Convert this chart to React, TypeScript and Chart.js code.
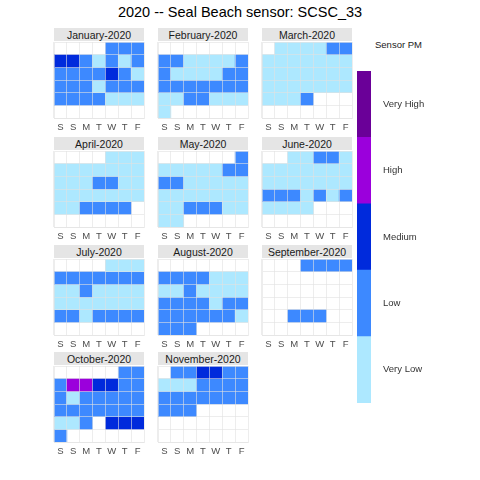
import React, { useEffect, useRef } from 'react';
import { Chart, registerables } from 'chart.js';

Chart.register(...registerables);
Chart.defaults.font.family = '"Liberation Sans", Arial, Helvetica, sans-serif';

const TITLE = '2020 -- Seal Beach sensor: SCSC_33';
const YEAR = 2020;
const MONTH_NAMES = ['January', 'February', 'March', 'April', 'May', 'June', 'July', 'August', 'September', 'October', 'November'];
const DAY_LABELS = ['S', 'S', 'M', 'T', 'W', 'T', 'F'];
const LEGEND_TITLE = 'Sensor PM';
const LEVELS = ['Very Low', 'Low', 'Medium', 'High', 'Very High'];
const LEVEL_COLORS = ['#ADE8FF', '#3D89FF', '#002ADC', '#9B00DC', '#6A0098'];

// daily category per month: 0 = no data, 1..5 = LEVELS index + 1
const jan = [2, 2, 2, 3, 3, 2, 1, 2, 1, 2, 2, 2, 2, 2, 3, 2, 1, 2, 2, 2, 1, 2, 2, 2, 2, 2, 2, 2, 1, 1, 1];
const feb = [2, 2, 1, 1, 1, 1, 2, 2, 1, 1, 1, 1, 2, 2, 2, 2, 2, 2, 2, 2, 2, 1, 1, 2, 2, 1, 1, 1, 1];
const mar = [1, 1, 1, 1, 2, 2, 1, 1, 1, 1, 1, 1, 1, 1, 1, 1, 1, 1, 1, 1, 1, 1, 1, 1, 1, 1, 1, 1, 1, 1, 2];
const apr = [1, 1, 1, 1, 1, 1, 1, 1, 1, 1, 1, 1, 1, 2, 2, 1, 1, 1, 1, 1, 1, 1, 1, 1, 1, 1, 2, 2, 2, 2];
const may = [2, 1, 1, 1, 1, 1, 2, 2, 2, 2, 1, 1, 1, 1, 1, 1, 1, 1, 1, 1, 1, 1, 1, 1, 2, 2, 2, 1, 1, 1, 1];
const jun = [1, 1, 2, 2, 1, 1, 1, 1, 1, 1, 1, 1, 1, 1, 1, 1, 1, 1, 1, 2, 2, 2, 1, 2, 1, 2, 1, 1, 1, 1];
const jul = [1, 1, 1, 2, 2, 2, 2, 2, 2, 2, 1, 1, 2, 1, 1, 1, 1, 1, 1, 1, 1, 1, 1, 1, 2, 2, 1, 2, 2, 2, 2];
const aug = [2, 2, 2, 2, 1, 1, 1, 1, 1, 2, 1, 1, 1, 1, 2, 2, 2, 2, 1, 2, 2, 2, 2, 2, 2, 2, 2, 1, 2, 2, 2];
const sep = [2, 2, 2, 2, 0, 0, 0, 0, 0, 0, 0, 0, 0, 0, 0, 0, 0, 0, 0, 0, 0, 0, 0, 0, 0, 0, 0, 2, 2, 2];
const oct = [2, 2, 2, 4, 4, 3, 3, 2, 2, 2, 1, 2, 2, 2, 2, 2, 2, 2, 2, 2, 2, 2, 2, 1, 1, 2, 0, 3, 3, 3, 2];
const nov = [2, 2, 3, 3, 2, 2, 1, 1, 1, 2, 2, 2, 2, 2, 2, 2, 2, 2, 2, 2, 2, 2, 2];
const MONTH_VALUES = [jan, feb, mar, apr, may, jun, jul, aug, sep, oct, nov];

const GRID_W = 90;
const GRID_H = 76;
const AXIS_H = 17;
const COL_LEFT = [54, 158, 262];
const ROW_TOP = [42, 151, 259, 366];
const GRID_COLOR = 'rgba(225,225,225,0.6)';

function MonthPanel({ monthIndex, values, left, top }: { monthIndex: number; values: number[]; left: number; top: number }) {
  const ref = useRef<HTMLCanvasElement>(null);
  useEffect(() => {
    const firstDay = new Date(YEAR, monthIndex, 1).getDay();
    const col0 = (firstDay + 1) % 7;
    const offset = col0 === 0 ? 7 : col0;
    const rows: any[][] = Array.from({ length: 6 }, () => Array(7).fill(null));
    const colors: string[][] = Array.from({ length: 6 }, () => Array(7).fill('rgba(0,0,0,0)'));
    values.forEach((v, i) => {
      if (!v) return;
      const pos = offset + i;
      const r = Math.floor(pos / 7);
      const c = pos % 7;
      rows[r][c] = [r, r + 1];
      colors[r][c] = LEVEL_COLORS[v - 1];
    });
    const datasets = rows.map((d, r) => ({
      data: d,
      backgroundColor: colors[r],
      borderWidth: 0,
      grouped: false,
      barPercentage: 1,
      categoryPercentage: 1,
    }));
    const chart = new Chart(ref.current as HTMLCanvasElement, {
      type: 'bar',
      data: { labels: DAY_LABELS, datasets: datasets as any },
      options: {
        animation: false,
        responsive: false,
        maintainAspectRatio: false,
        events: [],
        layout: { padding: { left: 1, right: 1, top: 1, bottom: 0 } },
        plugins: { legend: { display: false }, tooltip: { enabled: false }, title: { display: false } },
        scales: {
          x: {
            type: 'category',
            position: 'bottom',
            offset: true,
            grid: { display: true, offset: true, color: GRID_COLOR, lineWidth: 1, drawTicks: false, z: 1 },
            border: { display: true, color: GRID_COLOR, z: 1 },
            ticks: { color: '#4D4D4D', font: { size: 9.5 }, padding: 4, autoSkip: false, maxRotation: 0 },
            afterFit: (s: any) => { s.height = AXIS_H; s.paddingLeft = 0; s.paddingRight = 0; },
          },
          y: {
            type: 'linear',
            min: 0,
            max: 6,
            reverse: true,
            grid: { color: GRID_COLOR, lineWidth: 1, drawTicks: false, z: 1 },
            border: { display: true, color: GRID_COLOR, z: 1 },
            ticks: { display: false, stepSize: 1 },
            afterFit: (s: any) => { s.width = 0; s.paddingTop = 0; s.paddingBottom = 0; },
          },
        },
      } as any,
    });
    return () => chart.destroy();
  }, [monthIndex, values]);

  return (
    <>
      <div
        style={{
          position: 'absolute',
          left: left,
          top: top - 14,
          width: GRID_W,
          height: 13,
          background: '#E5E5E5',
          color: '#1A1A1A',
          fontFamily: '"Liberation Sans", Arial, sans-serif',
          fontSize: 10.5,
          lineHeight: '14px',
          textAlign: 'center',
          whiteSpace: 'nowrap',
        }}
      >
        {MONTH_NAMES[monthIndex] + '-' + YEAR}
      </div>
      <canvas
        ref={ref}
        width={GRID_W + 2}
        height={GRID_H + 1 + AXIS_H}
        style={{ position: 'absolute', left: left - 1, top: top - 1, width: GRID_W + 2, height: GRID_H + 1 + AXIS_H }}
      />
    </>
  );
}

function LegendBar() {
  const ref = useRef<HTMLCanvasElement>(null);
  useEffect(() => {
    const chart = new Chart(ref.current as HTMLCanvasElement, {
      type: 'bar',
      data: {
        labels: [LEGEND_TITLE],
        datasets: LEVELS.map((name, i) => ({
          label: name,
          data: [1],
          backgroundColor: LEVEL_COLORS[i],
          borderWidth: 0,
          barPercentage: 1,
          categoryPercentage: 1,
        })),
      },
      options: {
        animation: false,
        responsive: false,
        maintainAspectRatio: false,
        events: [],
        layout: { padding: 0 },
        plugins: { legend: { display: false }, tooltip: { enabled: false } },
        scales: {
          x: { stacked: true, display: false },
          y: {
            stacked: true,
            position: 'right',
            min: 0,
            max: LEVELS.length,
            grid: { display: false },
            border: { display: false },
            ticks: {
              color: '#333333',
              font: { size: 9.5 },
              padding: 4,
              callback: (v: any) => LEVELS[Math.floor(Number(v))],
            },
            afterBuildTicks: (s: any) => {
              s.ticks = LEVELS.map((_, i) => ({ value: i + 0.5 }));
            },
            afterFit: (s: any) => { s.width = 109; s.paddingTop = 0; s.paddingBottom = 0; },
          },
        },
      } as any,
    });
    return () => chart.destroy();
  }, []);
  return (
    <canvas ref={ref} width={123} height={332} style={{ position: 'absolute', left: 357, top: 71, width: 123, height: 332 }} />
  );
}

export default function App() {
  return (
    <div style={{ position: 'absolute', left: 0, top: 0, width: 480, height: 480, background: '#FFFFFF', overflow: 'hidden' }}>
      <div
        style={{
          position: 'absolute',
          left: 0,
          top: 0,
          width: 480,
          height: 24,
          lineHeight: '24px',
          textAlign: 'center',
          fontFamily: '"Liberation Sans", Arial, sans-serif',
          fontSize: 14.5,
          color: '#000000',
        }}
      >
        {TITLE}
      </div>
      {MONTH_VALUES.map((vals, m) => (
        <MonthPanel key={m} monthIndex={m} values={vals} left={COL_LEFT[m % 3]} top={ROW_TOP[Math.floor(m / 3)]} />
      ))}
      <div
        style={{
          position: 'absolute',
          left: 375,
          top: 39,
          fontFamily: '"Liberation Sans", Arial, sans-serif',
          fontSize: 9.5,
          lineHeight: '12px',
          color: '#1A1A1A',
          whiteSpace: 'nowrap',
        }}
      >
        {LEGEND_TITLE}
      </div>
      <LegendBar />
    </div>
  );
}
